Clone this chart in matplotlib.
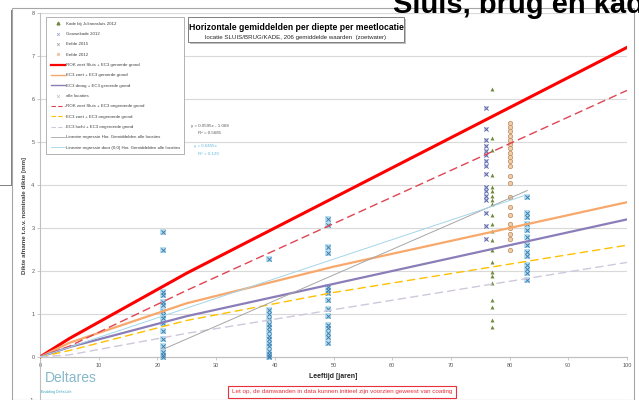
import numpy as np
import matplotlib
matplotlib.use("Agg")
import matplotlib.pyplot as plt
from matplotlib.lines import Line2D
from matplotlib.patches import Rectangle

plt.rcParams['font.family'] = ['Liberation Sans', 'DejaVu Sans']

# ---- EC3 / ROK reference curves (age in years, thickness loss in mm) ----
ages = [0, 5, 25, 50, 75, 100]
rok_geroerd = [0, 0.43, 1.95, 3.70, 5.45, 7.20]
ec3_zoet_geroerd = [0, 0.33, 1.25, 2.10, 2.85, 3.60]
ec3_droog_geroerd = [0, 0.23, 0.95, 1.70, 2.45, 3.20]
rok_ongeroerd = [0, 0.25, 1.55, 3.10, 4.65, 6.20]
ec3_zoet_ongeroerd = [0, 0.15, 0.85, 1.50, 2.05, 2.60]
ec3_lucht_ongeroerd = [0, 0.05, 0.55, 1.10, 1.65, 2.20]

# ---- regressions ----
reg_slope, reg_icpt, reg_x = 0.0595, -1.068, [21, 83]
reg0_slope, reg0_x = 0.0455, [0, 82.5]

# ---- measurements (horizontal averages per depth) ----
alle_x = [21, 39, 49]
alle_y = [
    [2.9, 2.5, 1.52, 1.45, 1.28, 1.22, 1.08, 0.98, 0.9, 0.8, 0.6, 0.42, 0.25, 0.12, 0.05, 0.0],
    [2.27, 1.1, 1.0, 0.88, 0.77, 0.7, 0.6, 0.5, 0.42, 0.32, 0.25, 0.15, 0.08, 0.02, 0.0],
    [3.2, 3.07, 2.56, 2.42, 1.63, 1.55, 1.48, 1.33, 1.12, 0.95, 0.75, 0.68, 0.55, 0.47, 0.33],
]
gouwe_x = 76
gouwe_y = [5.8, 5.3, 5.05, 4.9, 4.8, 4.7, 4.55, 4.45, 4.25, 3.95, 3.85, 3.75, 3.65, 3.35, 3.05, 2.75]
julianasluis_x = 77
julianasluis_y = [6.23, 5.09, 4.81, 4.23, 3.95, 3.85, 3.75, 3.65, 3.55, 3.3, 3.1, 2.92, 2.72,
                  2.5, 2.2, 1.98, 1.88, 1.72, 1.33, 1.17, 0.86, 0.7]
eefde12_x = 80
eefde12_y = [5.45, 5.35, 5.25, 5.15, 5.05, 4.95, 4.85, 4.75, 4.65, 4.55, 4.45, 4.2, 4.05,
             3.72, 3.5, 3.3, 3.1, 3.0, 2.85, 2.75, 2.5]
eefde15_x = 83
eefde15_y = [3.72, 3.35, 3.25, 3.1, 2.95, 2.8, 2.6, 2.45, 2.35, 2.15, 2.05, 1.95, 1.8]

W, H = 639, 400
fig = plt.figure(figsize=(W / 100, H / 100), dpi=100)

# panel frame and the cut-off slide title
fig.add_artist(Rectangle((12 / W, 0), 622 / W, 1 - 8 / H, transform=fig.transFigure,
                         fill=False, edgecolor='#a6a6a6', lw=0.8))
fig.add_artist(Line2D([11 / W, 11 / W], [1 - 10 / H, 1 - 185 / H], transform=fig.transFigure,
                      color='#808080', lw=0.7))
fig.add_artist(Line2D([0, 11 / W], [1 - 185 / H, 1 - 185 / H], transform=fig.transFigure,
                      color='#808080', lw=0.7))
fig.text(393 / W, 1 - 13 / H, "Sluis, brug en kade", fontsize=21, fontweight='bold',
         ha='left', va='baseline', color='black')

ax = fig.add_axes([40 / W, 0, (627 - 40) / W, (H - 13) / H])
ax.set_xlim(0, 100)
ax.set_ylim(-1, 8)

for s in ['top', 'right']:
    ax.spines[s].set_visible(False)
ax.spines['bottom'].set_position(('data', 0))
ax.spines['bottom'].set_color('#bfbfbf')
ax.spines['left'].set_color('#bfbfbf')
ax.set_xticks(range(0, 101, 10))
ax.set_yticks(range(-1, 9))
ax.tick_params(labelsize=4, colors='#bfbfbf', labelcolor='#595959', length=2, width=0.6, pad=2)
ax.yaxis.grid(True, color='#d9d9d9', lw=0.8)
ax.set_axisbelow(True)

# measurement points
sq_kw = dict(marker='s', s=14, color='#b9def0', linewidths=0, zorder=2)
for xv, yv in zip(alle_x, alle_y):
    ax.scatter([xv] * len(yv), yv, **sq_kw)
    ax.scatter([xv] * len(yv), yv, marker='x', s=9, color='#3f7fb0', linewidths=0.7, zorder=3)
ax.scatter([eefde15_x] * len(eefde15_y), eefde15_y, **sq_kw)
ax.scatter([eefde15_x] * len(eefde15_y), eefde15_y, marker='x', s=9, color='#3f7fb0',
           linewidths=0.7, zorder=3)
ax.scatter([gouwe_x] * len(gouwe_y), gouwe_y, marker='s', s=12, color='#d4d2ee',
           linewidths=0, zorder=2)
ax.scatter([gouwe_x] * len(gouwe_y), gouwe_y, marker='x', s=9, color='#5b6aa8',
           linewidths=0.7, zorder=3)
ax.scatter([julianasluis_x] * len(julianasluis_y), julianasluis_y, marker='^', s=8,
           color='#6e8a3a', linewidths=0, zorder=3)
ax.scatter([eefde12_x] * len(eefde12_y), eefde12_y, marker='o', s=10, facecolor='#f3cda8',
           edgecolor='#b88a60', linewidths=0.5, zorder=3)

# reference curves
ax.plot(ages, rok_geroerd, color='#ff0000', lw=2.2, zorder=4)
ax.plot(ages, ec3_zoet_geroerd, color='#f7a86a', lw=1.6, zorder=4)
ax.plot(ages, ec3_droog_geroerd, color='#8a7db8', lw=1.6, zorder=4)
ax.plot(ages, rok_ongeroerd, color='#e04452', lw=1.0, ls=(0, (6, 3)), zorder=4)
ax.plot(ages, ec3_zoet_ongeroerd, color='#ffc000', lw=1.0, ls=(0, (6, 3)), zorder=4)
ax.plot(ages, ec3_lucht_ongeroerd, color='#cfc7dc', lw=1.0, ls=(0, (6, 3)), zorder=4)

rx = np.array(reg_x, dtype=float)
ax.plot(rx, reg_slope * rx + reg_icpt, color='#a6a6a6', lw=0.7, zorder=4)
r0 = np.array(reg0_x, dtype=float)
ax.plot(r0, reg0_slope * r0, color='#a3d4ea', lw=0.7, zorder=4)

ax.text(25.8, 5.35, "y = 0.0595x - 1.068", fontsize=3.2, color='#595959')
ax.text(27.0, 5.18, "R² = 0.5685", fontsize=3.2, color='#595959')
ax.text(26.2, 4.88, "y = 0.0455x", fontsize=3.2, color='#5fb8dc')
ax.text(27.0, 4.70, "R² = 0.129", fontsize=3.2, color='#5fb8dc')

# legend
handles = [
    Line2D([], [], ls='none', marker='^', ms=2, color='#6e8a3a'),
    Line2D([], [], ls='none', marker='x', ms=2, mew=0.5, color='#8f9fd0'),
    Line2D([], [], ls='none', marker='x', ms=2, mew=0.5, color='#a0a0a0'),
    Line2D([], [], ls='none', marker='o', ms=2, mfc='#f3cda8', mec='#e0c0a0', mew=0.4),
    Line2D([], [], color='#ff0000', lw=1.6),
    Line2D([], [], color='#f7a86a', lw=1.0),
    Line2D([], [], color='#8a7db8', lw=1.0),
    Line2D([], [], ls='none', marker='x', ms=2, mew=0.5, color='#c0c0c0'),
    Line2D([], [], color='#e04452', lw=0.8, ls=(0, (4, 2))),
    Line2D([], [], color='#ffc000', lw=0.8, ls=(0, (4, 2))),
    Line2D([], [], color='#cfc7dc', lw=0.8, ls=(0, (4, 2))),
    Line2D([], [], color='#a6a6a6', lw=0.6),
    Line2D([], [], color='#a3d4ea', lw=0.6),
]
labels = [
    "Kade bij Julianasluis 2012",
    "Gouwekade 2012",
    "Eefde 2015",
    "Eefde 2012",
    "ROK zoet Sluis + EC3 geroerde grond",
    "EC3 zoet + EC3 geroerde grond",
    "EC3 droog + EC3 geroerde grond",
    "alle locaties",
    "ROK zoet Sluis + EC3 ongeroerde grond",
    "EC3 zoet + EC3 ongeroerde grond",
    "EC3 lucht + EC3 ongeroerde grond",
    "Lineaire regressie Hor. Gemiddelden alle locaties",
    "Lineaire regressie door (0,0) Hor. Gemiddelden alle locaties",
]
leg = ax.legend(handles, labels, loc='upper left', bbox_to_anchor=(44 / W, 1 - 15 / H),
                bbox_transform=fig.transFigure, fontsize=3.2, labelspacing=1.4,
                handlelength=3.2, handletextpad=0.2, borderpad=1.0, frameon=True,
                fancybox=False, edgecolor='#a6a6a6', framealpha=1)
leg.get_frame().set_linewidth(0.6)
for t in leg.get_texts():
    t.set_color('#404040')

# chart title box
fig.add_artist(Rectangle((190 / W, 1 - 44 / H), 216 / W, 25 / H, transform=fig.transFigure,
                         facecolor='#bfbfbf', edgecolor='none'))
fig.add_artist(Rectangle((188 / W, 1 - 42 / H), 216 / W, 25 / H, transform=fig.transFigure,
                         facecolor='white', edgecolor='#7f7f7f', lw=0.7))
fig.text(296 / W, 1 - 27 / H, "Horizontale gemiddelden per diepte per meetlocatie",
         fontsize=6.2, fontweight='bold', ha='center', va='center')
fig.text(296 / W, 1 - 37 / H, "locatie SLUIS/BRUG/KADE, 206 gemiddelde waarden  (zoetwater)",
         fontsize=4.4, ha='center', va='center', color='#262626')

# axis labels
fig.text(25 / W, 1 - 215 / H, "Dikte afname t.o.v. nominale dikte [mm]", rotation=90,
         fontsize=4.5, fontweight='bold', ha='center', va='center', color='#404040')
fig.text(333 / W, 1 - 376 / H, "Leeftijd [jaren]", fontsize=5, fontweight='bold',
         ha='center', va='center', color='#262626')

# Deltares logo (text only)
fig.text(45 / W, 1 - 378 / H, "Deltares", fontsize=10, color='#86b8c9', ha='left', va='center')
fig.text(41 / W, 1 - 392 / H, "Enabling Delta Life", fontsize=2.6, color='#2f9fb9',
         ha='left', va='center')

# warning note
fig.text(342 / W, 1 - 392 / H,
         "Let op, de damwanden in data kunnen initieel zijn voorzien geweest van coating",
         fontsize=4.5, color='#e8303a', ha='center', va='center',
         bbox=dict(boxstyle='square,pad=0.6', facecolor='white', edgecolor='#e8303a', lw=0.8))

fig.savefig("out.png", dpi=100)
